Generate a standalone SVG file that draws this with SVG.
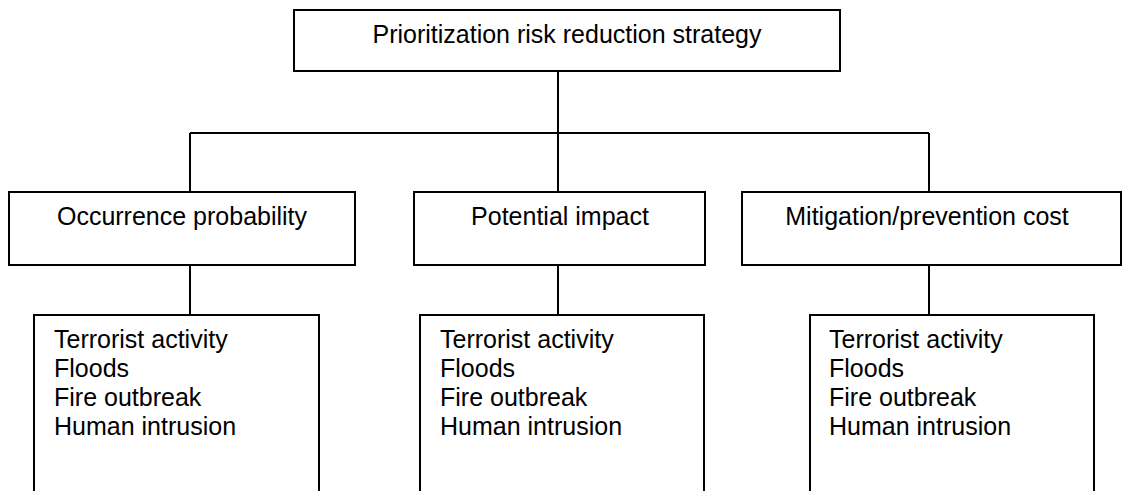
<svg xmlns="http://www.w3.org/2000/svg" width="1122" height="491" viewBox="0 0 1122 491">
<style>
.box{fill:#fff;stroke:#000;stroke-width:2}
.ln{fill:none;stroke:#000;stroke-width:2}
text{font-family:"Liberation Sans",Arial,sans-serif;font-size:25px;fill:#000}
</style>
<rect width="1122" height="491" fill="#fff"/>
<g id="connectors">
<path class="ln" d="M558 71V133M190 133H929M190 133V192M558 133V192M929 133V192"/>
<path class="ln" d="M190 265V315M558 265V315M929 265V315"/>
</g>
<g id="root">
<rect class="box" x="294" y="10" width="546" height="61"/>
<text x="567" y="43" text-anchor="middle">Prioritization risk reduction strategy</text>
</g>
<g id="occurrence">
<rect class="box" x="9" y="192" width="346" height="73"/>
<text x="182" y="225" text-anchor="middle">Occurrence probability</text>
</g>
<g id="impact">
<rect class="box" x="414" y="192" width="291" height="73"/>
<text x="560" y="225" text-anchor="middle">Potential impact</text>
</g>
<g id="cost">
<rect class="box" x="742" y="192" width="379" height="73"/>
<text x="927" y="225" text-anchor="middle">Mitigation/prevention cost</text>
</g>
<g id="list1">
<rect class="box" x="34" y="315" width="285" height="200"/>
<text x="54" y="348">Terrorist activity</text>
<text x="54" y="377">Floods</text>
<text x="54" y="406">Fire outbreak</text>
<text x="54" y="435">Human intrusion</text>
</g>
<g id="list2">
<rect class="box" x="420" y="315" width="284" height="200"/>
<text x="440" y="348">Terrorist activity</text>
<text x="440" y="377">Floods</text>
<text x="440" y="406">Fire outbreak</text>
<text x="440" y="435">Human intrusion</text>
</g>
<g id="list3">
<rect class="box" x="810" y="315" width="284" height="200"/>
<text x="829" y="348">Terrorist activity</text>
<text x="829" y="377">Floods</text>
<text x="829" y="406">Fire outbreak</text>
<text x="829" y="435">Human intrusion</text>
</g>
</svg>
